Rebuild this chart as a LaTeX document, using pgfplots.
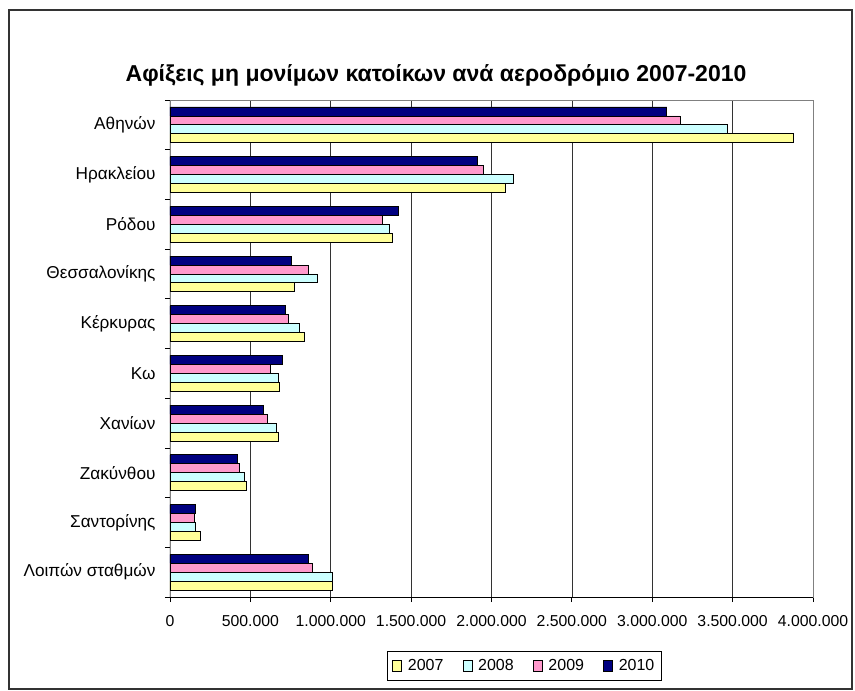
\documentclass[border=0pt]{standalone}
\usepackage{fontspec}
\setmainfont{Liberation Sans}
\usepackage{pgfplots}
\pgfplotsset{compat=1.18}
\usepackage{pgfplotstable}

\definecolor{c2007}{HTML}{FFFF99}
\definecolor{c2008}{HTML}{CCFFFF}
\definecolor{c2009}{HTML}{FF99CC}
\definecolor{c2010}{HTML}{000080}

% idx 0 = Λοιπών σταθμών (bottom) ... 9 = Αθηνών (top)
\pgfplotstableread{
idx y2007   y2008   y2009   y2010
0   1013000 1013000 887000  860000
1   188000  159000  149000  161000
2   476000  465000  430000  422000
3   672000  662000  608000  583000
4   683000  672000  625000  701000
5   834000  807000  734000  718000
6   771000  914000  860000  753000
7   1381000 1362000 1319000 1419000
8   2085000 2139000 1950000 1915000
9   3876000 3469000 3172000 3091000
}\arrivals

\begin{document}
\begin{tikzpicture}
  \useasboundingbox (-170bp,-94bp) rectangle (685bp,597bp);
  \begin{axis}[
    scale only axis,width=643bp,height=497bp,
    xbar,bar width=0.18,
    xmin=0,xmax=4000000,ymin=-0.5,ymax=9.5,
    xtick={0,500000,1000000,1500000,2000000,2500000,3000000,3500000,4000000},
    scaled x ticks=false,
    xticklabel style={font=\fontsize{15.8bp}{18bp}\selectfont,yshift=-10bp,
      /pgf/number format/.cd,fixed,precision=0,1000 sep={.},assume math mode=true},
    ytick={-0.5,0.5,...,9.5},
    yticklabels={Λοιπών σταθμών,Σαντορίνης,Ζακύνθου,Χανίων,Κω,Κέρκυρας,Θεσσαλονίκης,Ρόδου,Ηρακλείου,Αθηνών},
    y tick label as interval,
    yticklabel style={font=\fontsize{17.2bp}{20bp}\selectfont,xshift=-6bp},
    tick align=outside,major tick length=5bp,
    xtick pos=left,ytick pos=left,
    tick style={black,line width=0.8bp},
    xmajorgrids,grid style={black!80,line width=0.6bp},
    axis line style={draw=black!50,line width=0.8bp},
    area legend,
    legend image code/.code={\draw[#1,line width=0.7bp] (0bp,-5.5bp) rectangle (9bp,5.5bp);},
    legend columns=4,
    legend style={at={(0.551,-0.139)},anchor=center,draw=black,line width=0.8bp,
      font=\fontsize{16bp}{19bp}\selectfont,inner xsep=5bp,inner ysep=6bp,
      /tikz/every odd column/.append style={column sep=4bp},
      /tikz/every even column/.append style={column sep=17bp}},
    every axis plot/.append style={draw=black,line width=0.8bp}]
    \addplot[fill=c2007,bar shift=-0.27] table[x=y2007,y=idx] {\arrivals};
    \addlegendentry{2007}
    \addplot[fill=c2008,bar shift=-0.09] table[x=y2008,y=idx] {\arrivals};
    \addlegendentry{2008}
    \addplot[fill=c2009,bar shift=0.09] table[x=y2009,y=idx] {\arrivals};
    \addlegendentry{2009}
    \addplot[fill=c2010,bar shift=0.27] table[x=y2010,y=idx] {\arrivals};
    \addlegendentry{2010}
    \draw[black,line width=1bp] (rel axis cs:0,1) -- (rel axis cs:0,0) -- (rel axis cs:1,0);
  \end{axis}
  \node[font=\bfseries\fontsize{23bp}{26bp}\selectfont] at (266bp,522bp)
    {Αφίξεις μη μονίμων κατοίκων ανά αεροδρόμιο 2007-2010};
  \draw[black!80,line width=1.2bp] (-161bp,-92bp) rectangle (682bp,587bp);
\end{tikzpicture}
\end{document}
